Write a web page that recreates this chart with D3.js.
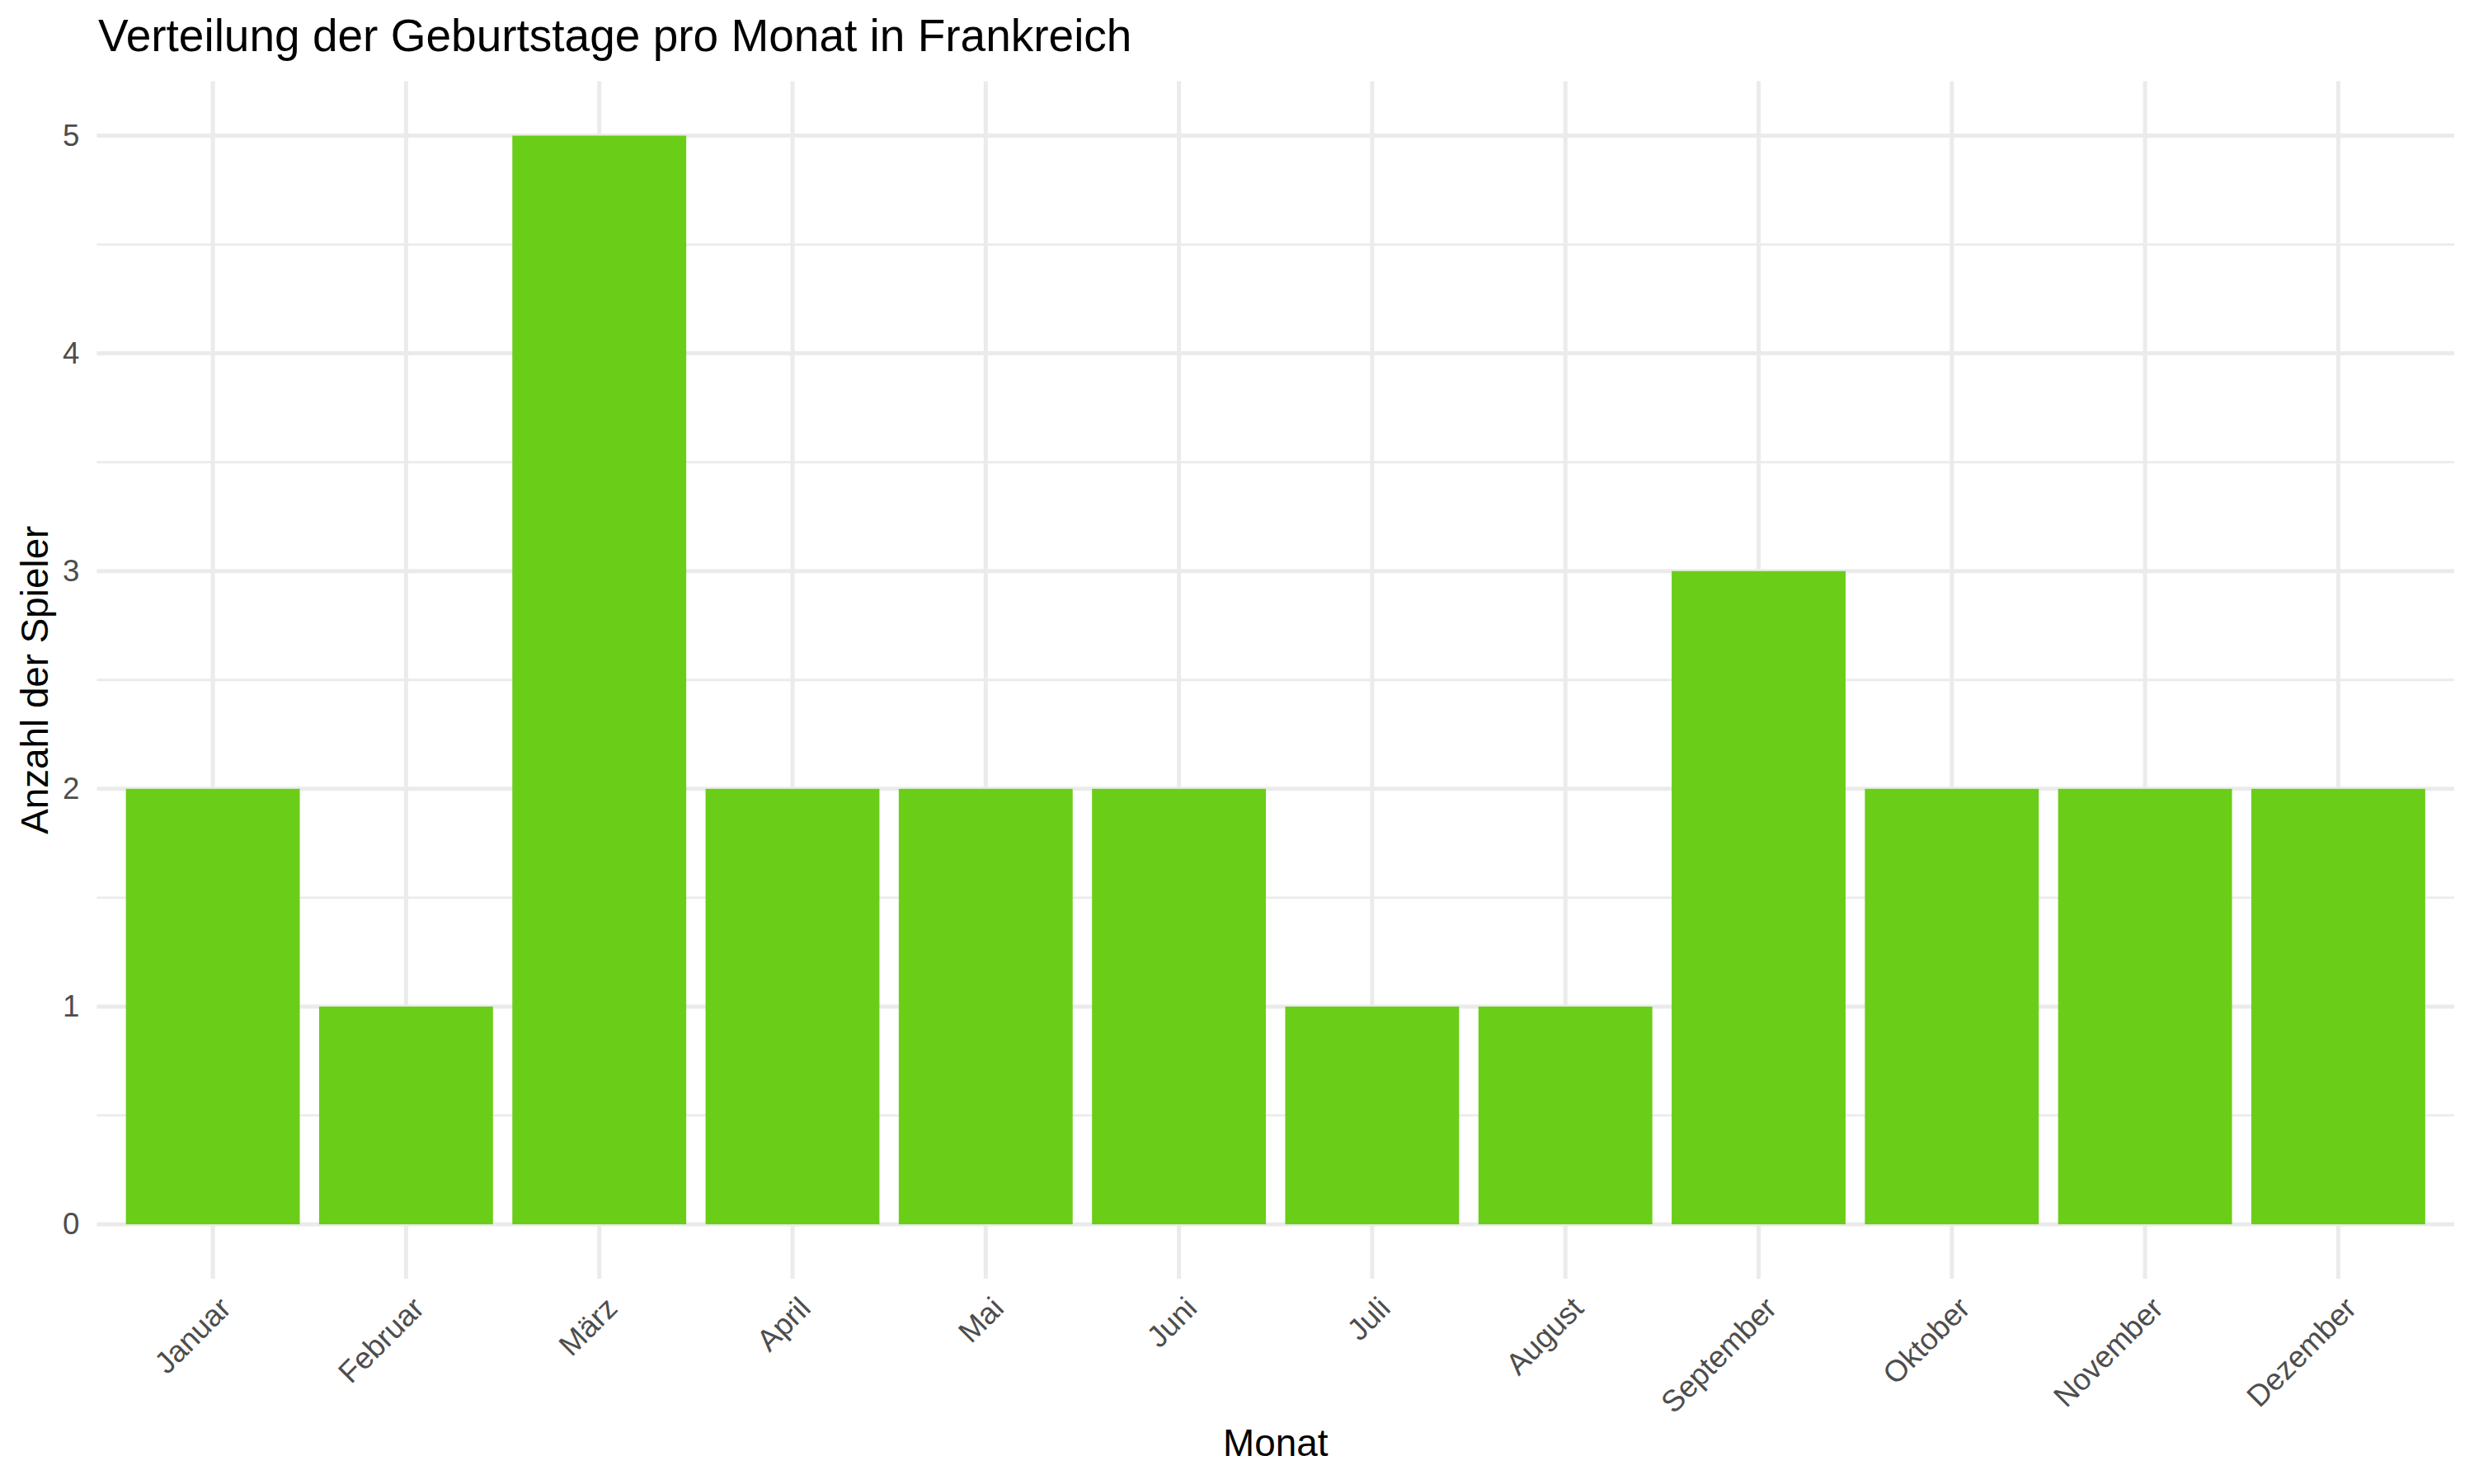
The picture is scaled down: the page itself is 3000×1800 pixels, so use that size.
<!DOCTYPE html>
<html>
<head>
<meta charset="utf-8">
<script src="https://cdn.jsdelivr.net/npm/d3@7"></script>
<style>
  body { margin: 0; background: #fff; }
  svg { display: block; font-family: "Liberation Sans", Arial, Helvetica, sans-serif; }
</style>
</head>
<body>
<svg width="3000" height="1800"></svg>
<script>
var months = ["Januar", "Februar", "März", "April", "Mai", "Juni", "Juli",
              "August", "September", "Oktober", "November", "Dezember"];
var counts = [2, 1, 5, 2, 2, 2, 1, 1, 3, 2, 2, 2];
var yTicks = [0, 1, 2, 3, 4, 5];
var yMinor = [0.5, 1.5, 2.5, 3.5, 4.5];

var titleText = "Verteilung der Geburtstage pro Monat in Frankreich";
var xTitle = "Monat";
var yTitle = "Anzahl der Spieler";

var svg = d3.select("svg");
var width = 3000, height = 1800;
// panel edges (window.top is read-only, so no "top" here)
var panelLeft = 117.5, panelRight = 2976, panelTop = 98.5, panelBottom = 1551;

svg.append("rect").attr("width", width).attr("height", height).attr("fill", "#fff");

// discrete axis: ggplot puts 0.6 of a step on each side
var x = d3.scaleBand()
    .domain(months)
    .range([panelLeft, panelRight])
    .paddingInner(0.1)
    .paddingOuter(0.15);

var y = d3.scaleLinear()
    .domain([-0.25, 5.25])
    .range([panelBottom, panelTop]);

var grid = svg.append("g");

grid.selectAll(".minor")
    .data(yMinor)
    .enter().append("line")
    .attr("x1", panelLeft).attr("x2", panelRight)
    .attr("y1", function(d) { return y(d); })
    .attr("y2", function(d) { return y(d); })
    .attr("stroke", "#ebebeb")
    .attr("stroke-width", 2.8);

grid.selectAll(".majorY")
    .data(yTicks)
    .enter().append("line")
    .attr("x1", panelLeft).attr("x2", panelRight)
    .attr("y1", function(d) { return y(d); })
    .attr("y2", function(d) { return y(d); })
    .attr("stroke", "#ebebeb")
    .attr("stroke-width", 5);

grid.selectAll(".majorX")
    .data(months)
    .enter().append("line")
    .attr("x1", function(d) { return x(d) + x.bandwidth() / 2; })
    .attr("x2", function(d) { return x(d) + x.bandwidth() / 2; })
    .attr("y1", panelTop).attr("y2", panelBottom)
    .attr("stroke", "#ebebeb")
    .attr("stroke-width", 5);

// bars
svg.append("g").selectAll("rect")
    .data(counts)
    .enter().append("rect")
    .attr("x", function(d, i) { return x(months[i]); })
    .attr("width", x.bandwidth())
    .attr("y", function(d) { return y(d); })
    .attr("height", function(d) { return y(0) - y(d); })
    .attr("fill", "#6ace18");

// y axis labels
var yAxis = svg.append("g")
    .attr("transform", "translate(" + panelLeft + ",0)")
    .call(d3.axisLeft(y).tickValues(yTicks).tickFormat(d3.format("d")).tickSize(0).tickPadding(21));
yAxis.select(".domain").remove();
yAxis.selectAll("text")
    .attr("font-size", 36.7)
    .attr("fill", "#4d4d4d")
    .attr("font-family", null);

// x axis labels, rotated 45deg
var xAxis = svg.append("g")
    .attr("transform", "translate(0," + panelBottom + ")")
    .call(d3.axisBottom(x).tickSize(0));
xAxis.select(".domain").remove();
xAxis.selectAll("text")
    .attr("font-size", 36.7)
    .attr("fill", "#4d4d4d")
    .attr("font-family", null)
    .attr("text-anchor", "end")
    .attr("y", 0)
    .attr("dy", null)
    .attr("transform", "translate(24,38) rotate(-45)");

// titles
svg.append("text")
    .attr("x", 119)
    .attr("y", 62)
    .attr("font-size", 55)
    .attr("fill", "#000")
    .text(titleText);

svg.append("text")
    .attr("x", (panelLeft + panelRight) / 2)
    .attr("y", 1766)
    .attr("text-anchor", "middle")
    .attr("font-size", 45.8)
    .attr("fill", "#000")
    .text(xTitle);

svg.append("text")
    .attr("transform", "translate(58," + (panelTop + panelBottom) / 2 + ") rotate(-90)")
    .attr("text-anchor", "middle")
    .attr("font-size", 45.8)
    .attr("fill", "#000")
    .text(yTitle);
</script>
</body>
</html>
